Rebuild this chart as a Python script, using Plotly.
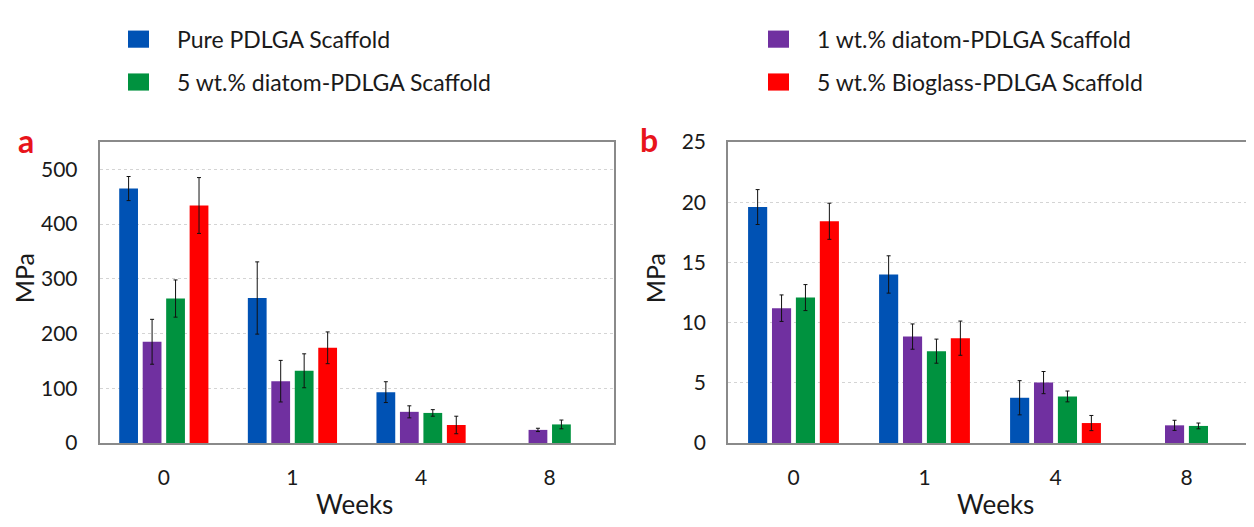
import plotly.graph_objects as go

# ---------------- data ----------------
weeks = ["0", "1", "4", "8"]
series_names = [
    "Pure PDLGA Scaffold",
    "1 wt.% diatom-PDLGA Scaffold",
    "5 wt.% diatom-PDLGA Scaffold",
    "5 wt.% Bioglass-PDLGA Scaffold",
]
colors = ["#0052B4", "#7030A0", "#00923F", "#FF0000"]

# panel a (MPa)
a_pure = [465, 265, 93, None]
a_pure_err = [22, 66, 19, None]
a_d1 = [185, 113, 57, 24]
a_d1_err = [41, 38, 11, 3]
a_d5 = [264, 132, 55, 34]
a_d5_err = [34, 31, 6, 8]
a_bg = [434, 174, 33, None]
a_bg_err = [51, 29, 16, None]

# panel b (MPa)
b_pure = [19.6, 14.0, 3.76, None]
b_pure_err = [1.45, 1.55, 1.42, None]
b_d1 = [11.2, 8.84, 5.02, 1.47]
b_d1_err = [1.1, 1.05, 0.92, 0.42]
b_d5 = [12.08, 7.63, 3.87, 1.42]
b_d5_err = [1.08, 1.0, 0.45, 0.24]
b_bg = [18.42, 8.71, 1.66, None]
b_bg_err = [1.5, 1.42, 0.63, None]

a_vals = [a_pure, a_d1, a_d5, a_bg]
a_errs = [a_pure_err, a_d1_err, a_d5_err, a_bg_err]
b_vals = [b_pure, b_d1, b_d5, b_bg]
b_errs = [b_pure_err, b_d1_err, b_d5_err, b_bg_err]

# ---------------- layout geometry (page pixels) ----------------
W, H = 1254, 527
OFF = 8  # default page body margin shifts the figure by 8 px
FONT = "Lato, 'Open Sans', sans-serif"
TXT = "#1a1a1a"


def px(x):
    return (x - OFF) / W


def py(y):
    return 1 - (y - OFF) / H


fig = go.Figure()

for vals, errs, xa, ya in [(a_vals, a_errs, "x", "y"), (b_vals, b_errs, "x2", "y2")]:
    for name, col, v, e in zip(series_names, colors, vals, errs):
        fig.add_trace(go.Bar(
            x=weeks, y=v, name=name, marker=dict(color=col, line=dict(width=0)),
            error_y=dict(type="data", array=e, visible=True, color="#111111",
                         thickness=1, width=2),
            xaxis=xa, yaxis=ya, showlegend=False,
        ))

axis_common = dict(
    showline=True, mirror=True, linecolor="#8a8a8a", linewidth=1.5,
    tickfont=dict(family=FONT, size=21, color=TXT), ticks="",
)

fig.update_layout(
    width=W, height=H,
    margin=dict(l=0, r=0, t=0, b=0),
    paper_bgcolor="white", plot_bgcolor="white",
    barmode="group", bargap=0.27, bargroupgap=0.2,
    showlegend=False,
    xaxis=dict(domain=[px(99.5), px(614)], type="category", showgrid=False,
               anchor="y", ticklabelstandoff=15, **axis_common),
    yaxis=dict(domain=[py(450), py(134)], range=[0, 550], dtick=100,
               showgrid=True, gridcolor="#d4d4d4", griddash="dot", gridwidth=1,
               zeroline=False, anchor="x", ticklabelstandoff=16, **axis_common),
    xaxis2=dict(domain=[px(728), px(1252)], type="category", showgrid=False,
                anchor="y2", ticklabelstandoff=15, **axis_common),
    yaxis2=dict(domain=[py(450), py(134)], range=[0, 25], dtick=5,
                showgrid=True, gridcolor="#d4d4d4", griddash="dot", gridwidth=1,
                zeroline=False, anchor="x2", ticklabelstandoff=16, **axis_common),
)

annotations = []
# axis titles
for xc in [354, 995]:
    annotations.append(dict(text="Weeks", x=px(xc), y=py(514), xref="paper", yref="paper",
                            showarrow=False, xanchor="center", yanchor="middle",
                            font=dict(family=FONT, size=26, color=TXT)))
annotations.append(dict(text="MPa", x=0, y=py(277), xref="paper", yref="paper",
                        showarrow=False, xanchor="left", yanchor="middle", textangle=-90,
                        borderpad=0, font=dict(family=FONT, size=25, color=TXT)))
annotations.append(dict(text="MPa", x=px(655), y=py(277), xref="paper", yref="paper",
                        showarrow=False, xanchor="center", yanchor="middle", textangle=-90,
                        borderpad=0, font=dict(family=FONT, size=25, color=TXT)))
# panel letters
for lab, xc, yc in [("a", 26, 132), ("b", 649, 131)]:
    annotations.append(dict(text="<b>%s</b>" % lab, x=px(xc), y=py(yc), xref="paper", yref="paper",
                            showarrow=False, xanchor="center", yanchor="middle",
                            font=dict(family=FONT, size=32, color="#E8141B")))

# legend (2 x 2) built from series names / colors
legend_pos = [(128, 26), (768, 26), (128, 71), (768, 71)]
shapes = []
for name, col, (lx, ly) in zip(series_names, colors, legend_pos):
    shapes.append(dict(type="rect", xref="paper", yref="paper",
                       x0=px(lx), x1=px(lx + 21), y0=py(ly - 9), y1=py(ly + 9),
                       fillcolor=col, line=dict(width=0)))
    annotations.append(dict(text=name, x=px(lx + 47), y=py(ly), xref="paper", yref="paper",
                            showarrow=False, xanchor="left", yanchor="middle",
                            font=dict(family=FONT, size=23, color=TXT)))

fig.update_layout(annotations=annotations, shapes=shapes)

fig.write_html("out.html")
